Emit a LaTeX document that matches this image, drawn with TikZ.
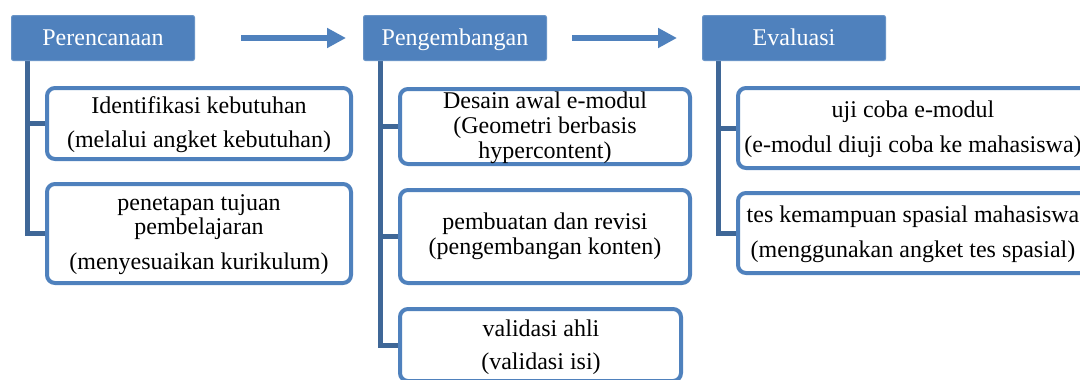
\documentclass[tikz,border=0pt]{standalone}
\usepackage{fontspec}
\setmainfont{Liberation Serif}
\usetikzlibrary{arrows.meta,calc,backgrounds}
\definecolor{hblue}{HTML}{4F81BD}
\definecolor{tblue}{HTML}{3F6797}
\begin{document}
\begin{tikzpicture}[x=1pt,y=-1pt,
  head/.style={fill=hblue, draw=hblue!85!white, line width=1pt, rounded corners=2pt, text=white,
    font=\fontsize{24}{25}\selectfont, inner sep=0pt, minimum width=183pt, minimum height=45pt,
    text height=15pt, text depth=0pt},
  child/.style={draw=hblue, line width=4pt, rounded corners=8pt, fill=white, inner sep=0pt},
  lbl/.style={anchor=base, font=\fontsize{24}{25}\selectfont, inner sep=0pt},
  tree/.style={draw=tblue, line width=5pt},
  flow/.style={draw=hblue, line width=6pt, -{Triangle[width=19pt,length=19pt]}}]
\useasboundingbox (0,0) rectangle (1080,380);
\clip (0,0) rectangle (1080,380);

% headers
\node[head] (h1) at (103,38) {Perencanaan};
\node[head] (h2) at (455,38) {Pengembangan};
\node[head] (h3) at (794,38) {Evaluasi};

% arrows between headers
\draw[flow, shorten <=46pt, shorten >=17pt] (h1.east) -- (h2.west);
\draw[flow, shorten <=25pt, shorten >=25pt] (h2.east) -- (h3.west);

% child boxes
\node[child, minimum width=304pt, minimum height=71pt] (p1) at (199,123.5) {};
\node[child, minimum width=304pt, minimum height=99pt] (p2) at (199,233.5) {};
\node[child, minimum width=290pt, minimum height=75pt] (g1) at (545,126.5) {};
\node[child, minimum width=290pt, minimum height=93pt] (g2) at (545,236.5) {};
\node[child, minimum width=281pt, minimum height=72pt] (g3) at (540.5,345) {};
\node[child, minimum width=350pt, minimum height=80pt] (e1) at (913,128) {};
\node[child, minimum width=350pt, minimum height=80pt] (e2) at (913,233) {};

% tree connectors (behind the boxes)
\begin{scope}[on background layer]
\draw[tree] ([xshift=16pt]h1.south west) |- (p1.west);
\draw[tree] ([xshift=16pt]h1.south west) |- (p2.west);
\draw[tree] ([xshift=17pt]h2.south west) |- (g1.west);
\draw[tree] ([xshift=17pt]h2.south west) |- (g2.west);
\draw[tree] ([xshift=17pt]h2.south west) |- (g3.west);
\draw[tree] ([xshift=16pt]h3.south west) |- (e1.west);
\draw[tree] ([xshift=16pt]h3.south west) |- (e2.west);
\end{scope}

% texts
\node[lbl] (tp1a) at (199,113) {Identifikasi kebutuhan};
\node[lbl] (tp1b) at (199,147) {(melalui angket kebutuhan)};
\node[lbl] (tp2a) at (199,210) {penetapan tujuan};
\node[lbl] (tp2b) at (199,234) {pembelajaran};
\node[lbl] (tp2c) at (199,269) {(menyesuaikan kurikulum)};

\node[lbl] (tg1a) at (545,108) {Desain awal e-modul};
\node[lbl] (tg1b) at (545,133) {(Geometri berbasis};
\node[lbl] (tg1c) at (545,158) {hypercontent)};
\node[lbl] (tg2a) at (545,229) {pembuatan dan revisi};
\node[lbl] (tg2b) at (545,254) {(pengembangan konten)};
\node[lbl] (tg3a) at (541,336) {validasi ahli};
\node[lbl] (tg3b) at (541,369) {(validasi isi)};

\node[lbl] (te1a) at (913,117) {uji coba e-modul};
\node[lbl] (te1b) at (913,152) {(e-modul diuji coba ke mahasiswa)};
\node[lbl] (te2a) at (913,222) {tes kemampuan spasial mahasiswa};
\node[lbl] (te2b) at (913,257) {(menggunakan angket tes spasial)};
\end{tikzpicture}
\end{document}
